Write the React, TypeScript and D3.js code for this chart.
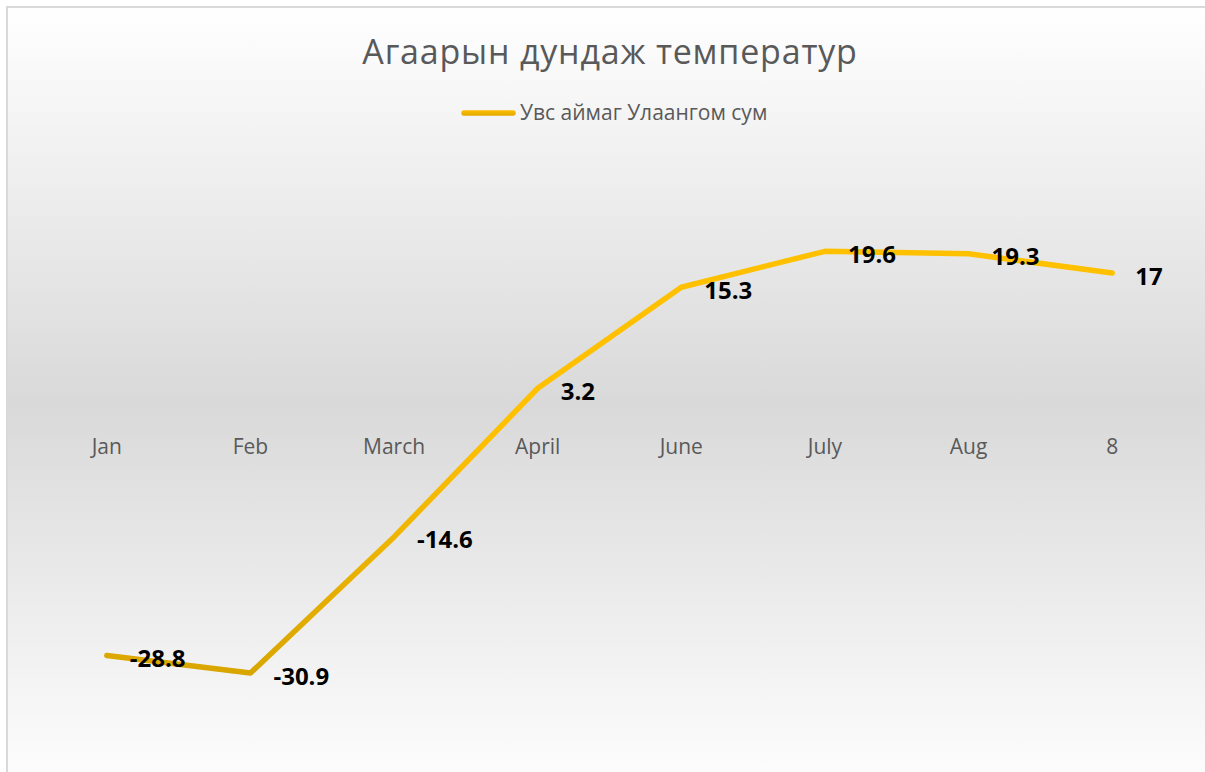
import React from "react";
import * as d3 from "d3";

const categories = ["Jan", "Feb", "March", "April", "June", "July", "Aug", "8"];
const values = [-28.8, -30.9, -14.6, 3.2, 15.3, 19.6, 19.3, 17];
const seriesName = "Увс аймаг Улаангом сум";
const title = "Агаарын дундаж температур";

const W = 1205;
const H = 772;

export default function App() {
  const x = d3.scalePoint<string>().domain(categories).range([35, 1184]).padding(0.5);
  const y = d3.scaleLinear().domain([-35, 25]).range([707.3, 206.2]);
  const line = d3
    .line<number>()
    .x((_, i) => x(categories[i]) as number)
    .y((d) => y(d));
  const y0 = y(0);
  const font = "'Open Sans', sans-serif";

  return (
    <div style={{ position: "absolute", left: 0, top: 0 }}>
      <svg width={W} height={H} style={{ display: "block" }}>
        <defs>
          <linearGradient id="bg" gradientUnits="userSpaceOnUse" x1="0" y1="7" x2="0" y2="800">
            <stop offset="0" stopColor="#FFFFFF" />
            <stop offset="0.5" stopColor="#D9D9D9" />
            <stop offset="1" stopColor="#FFFFFF" />
          </linearGradient>
          <linearGradient id="ln" gradientUnits="userSpaceOnUse" x1="0" y1="690" x2="0" y2="430">
            <stop offset="0" stopColor="#D6A400" />
            <stop offset="1" stopColor="#FFC000" />
          </linearGradient>
          <linearGradient id="lg" gradientUnits="userSpaceOnUse" x1="0" y1="116" x2="0" y2="110">
            <stop offset="0" stopColor="#E0A800" />
            <stop offset="1" stopColor="#FFC000" />
          </linearGradient>
        </defs>
        <rect x={0} y={0} width={W} height={H} fill="#FFFFFF" />
        <rect x={7} y={7} width={1230} height={800} fill="url(#bg)" stroke="#D9D9D9" strokeWidth={2} />
        <text
          x={610}
          y={64}
          textAnchor="middle"
          fontFamily={font}
          fontSize={34}
          letterSpacing={0.8}
          fill="#595959"
        >
          {title}
        </text>
        <line x1={464} x2={513} y1={113} y2={113} stroke="url(#lg)" strokeWidth={5.5} strokeLinecap="round" />
        <text x={520} y={120} fontFamily={font} fontSize={21} fill="#595959">
          {seriesName}
        </text>
        {categories.map((c) => (
          <text
            key={c}
            x={x(c) as number}
            y={y0 + 39}
            textAnchor="middle"
            fontFamily={font}
            fontSize={21}
            fill="#595959"
          >
            {c}
          </text>
        ))}
        <path
          d={line(values) || ""}
          fill="none"
          stroke="url(#ln)"
          strokeWidth={5.5}
          strokeLinecap="round"
          strokeLinejoin="round"
        />
        {values.map((v, i) => (
          <text
            key={i}
            x={(x(categories[i]) as number) + 23}
            y={y(v) + 2}
            dominantBaseline="central"
            fontFamily={font}
            fontWeight="bold"
            fontSize={24}
            fill="#000000"
          >
            {String(v)}
          </text>
        ))}
      </svg>
    </div>
  );
}
